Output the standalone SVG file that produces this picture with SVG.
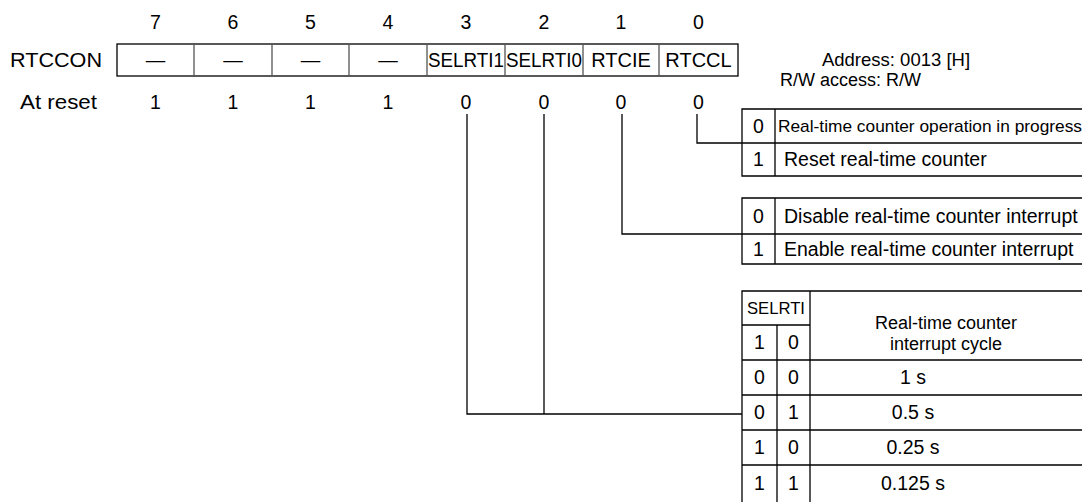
<svg xmlns="http://www.w3.org/2000/svg" width="1082" height="502" viewBox="0 0 1082 502">
<style>
text{font-family:"Liberation Sans",Arial,sans-serif;font-size:19.5px;fill:#000}
.c{text-anchor:middle}
.m{font-size:18px}
.ln{fill:none;stroke:#000;stroke-width:1.3}
.dv{fill:none;stroke:#555;stroke-width:1.3}
</style>
<rect width="1082" height="502" fill="#fff"/>
<g id="bitnums">
<text class="c" x="155.5" y="29">7</text>
<text class="c" x="233" y="29">6</text>
<text class="c" x="310.5" y="29">5</text>
<text class="c" x="388" y="29">4</text>
<text class="c" x="466" y="29">3</text>
<text class="c" x="544" y="29">2</text>
<text class="c" x="621" y="29">1</text>
<text class="c" x="698.5" y="29">0</text>
</g>
<g id="register">
<text x="10" y="67" textLength="92" lengthAdjust="spacingAndGlyphs" style="font-size:20.5px">RTCCON</text>
<rect class="ln" x="117" y="44" width="621" height="32"/>
<path class="dv" d="M194 44V76M272 44V76M349 44V76M427 44V76M505 44V76M583 44V76M659 44V76"/>
<text class="c" x="155.5" y="67">—</text>
<text class="c" x="233" y="67">—</text>
<text class="c" x="310.5" y="67">—</text>
<text class="c" x="388" y="67">—</text>
<text class="c" x="466" y="67" textLength="76" lengthAdjust="spacingAndGlyphs">SELRTI1</text>
<text class="c" x="544" y="67" textLength="76" lengthAdjust="spacingAndGlyphs">SELRTI0</text>
<text class="c" x="621" y="67" style="font-size:20px">RTCIE</text>
<text class="c" x="698.5" y="67" style="font-size:20px">RTCCL</text>
</g>
<g id="address">
<text class="c" x="896" y="66" style="font-size:18.5px">Address: 0013 [H]</text>
<text class="m" x="780" y="86">R/W access: R/W</text>
</g>
<g id="reset">
<text x="20" y="109" textLength="77" lengthAdjust="spacingAndGlyphs" style="font-size:20.5px">At reset</text>
<text class="c" x="155.5" y="109">1</text>
<text class="c" x="233" y="109">1</text>
<text class="c" x="310.5" y="109">1</text>
<text class="c" x="388" y="109">1</text>
<text class="c" x="466" y="109">0</text>
<text class="c" x="544" y="109">0</text>
<text class="c" x="621" y="109">0</text>
<text class="c" x="698.5" y="109">0</text>
</g>
<g id="connectors">
<path class="ln" d="M697 114V143H742"/>
<path class="ln" d="M622 114V234H742"/>
<path class="ln" d="M467 114V414H742"/>
<path class="ln" d="M544 114V414"/>
</g>
<g id="table-rtccl">
<path class="ln" d="M1082 109H742V176H1082M742 143H1082M775 109V176"/>
<text class="c" x="758.5" y="133">0</text>
<text class="c" x="758.5" y="166">1</text>
<text x="778" y="132" textLength="304" lengthAdjust="spacingAndGlyphs" style="font-size:17px">Real-time counter operation in progress</text>
<text x="784" y="166">Reset real-time counter</text>
</g>
<g id="table-rtcie">
<path class="ln" d="M1082 198H742V264H1082M742 234H1082M775 198V264"/>
<text class="c" x="758.5" y="223">0</text>
<text class="c" x="758.5" y="256">1</text>
<text x="784" y="223">Disable real-time counter interrupt</text>
<text x="784" y="256">Enable real-time counter interrupt</text>
</g>
<g id="table-selrti">
<path class="ln" d="M1082 291H742V502M742 325H810M742 360H1082M742 395H1082M742 430H1082M742 465H1082M777 325V502M810 291V502"/>
<text class="c" x="776" y="314" textLength="58" lengthAdjust="spacingAndGlyphs" style="font-size:16.5px">SELRTI</text>
<text class="c" x="759.5" y="349">1</text>
<text class="c" x="793.5" y="349">0</text>
<text class="c m" x="946" y="329">Real-time counter</text>
<text class="c m" x="946" y="350">interrupt cycle</text>
<text class="c" x="759.5" y="384">0</text>
<text class="c" x="793.5" y="384">0</text>
<text class="c" x="913" y="384">1 s</text>
<text class="c" x="759.5" y="419">0</text>
<text class="c" x="793.5" y="419">1</text>
<text class="c" x="913" y="419">0.5 s</text>
<text class="c" x="759.5" y="454">1</text>
<text class="c" x="793.5" y="454">0</text>
<text class="c" x="913" y="454">0.25 s</text>
<text class="c" x="759.5" y="490">1</text>
<text class="c" x="793.5" y="490">1</text>
<text class="c" x="913" y="490">0.125 s</text>
</g>
</svg>
